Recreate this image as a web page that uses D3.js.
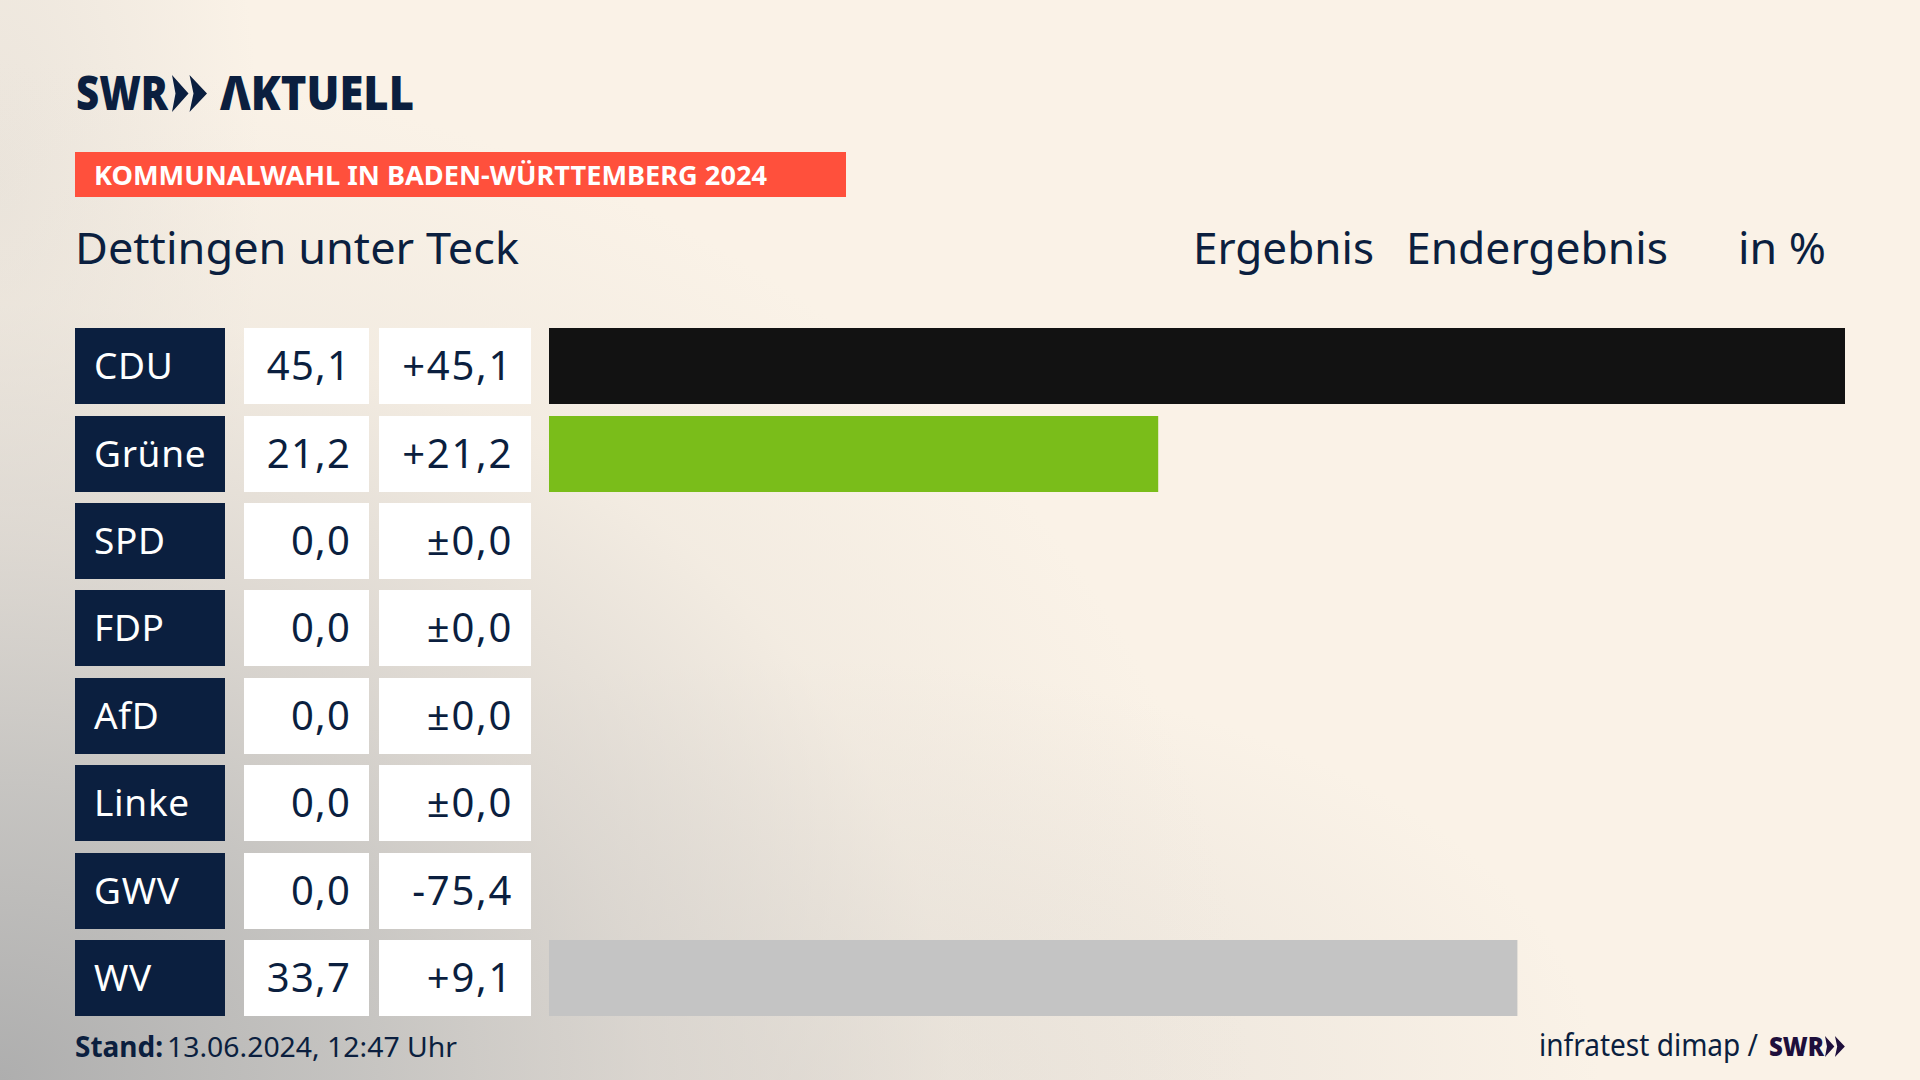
<!DOCTYPE html>
<html lang="de"><head><meta charset="utf-8">
<script src="https://cdn.jsdelivr.net/npm/d3@7/dist/d3.min.js"></script>
<style>
html,body{margin:0;padding:0;width:1920px;height:1080px;overflow:hidden;background:#faf2e7}
#bg{position:absolute;left:0;top:0;width:1920px;height:1080px;
background:
 radial-gradient(ellipse 1250px 1020px at 0px 1080px, rgba(174,174,174,1) 0%, rgba(192,191,189,.9) 28%, rgba(212,208,203,.72) 52%, rgba(232,226,217,.4) 76%, rgba(250,242,231,0) 100%),
 radial-gradient(ellipse 800px 420px at 800px 1080px, rgba(215,210,204,.6) 0%, rgba(250,242,231,0) 100%),
 radial-gradient(ellipse 260px 620px at 0px 180px, rgba(222,217,210,.55) 0%, rgba(250,242,231,0) 100%),
 #faf2e7;}
svg{position:absolute;left:0;top:0}
text{font-family:"Noto Sans",sans-serif;fill:#0b1f3f}
</style></head><body><div id="bg"></div><svg id="c" width="1920" height="1080"></svg>
<script>
const parties = ["CDU","Grüne","SPD","FDP","AfD","Linke","GWV","WV"];
const results = [45.1,21.2,0,0,0,0,0,33.7];
const changes = [45.1,21.2,0,0,0,0,-75.4,9.1];
const barColors = ["#121212","#7abd1a","#e3000f","#ffe000","#009ee0","#e3007c","#c4c4c4","#c4c4c4"];
const title = "Dettingen unter Teck";
const banner = "KOMMUNALWAHL IN BADEN-WÜRTTEMBERG 2024";
const headers = ["Ergebnis","Endergebnis","in %"];
const stand = ["Stand:","13.06.2024, 12:47 Uhr"];
const source = "infratest dimap /";

const NAVY="#0b1f3f";
const svg=d3.select("#c");
const de=d3.formatLocale({decimal:",",thousands:".",grouping:[3],currency:["","€"],minus:"-"});
const fVal=de.format(".1f"), fDiff=de.format("+.1f");
const diffLabel=v=>v===0?"±"+fVal(0):fDiff(v);

const x=d3.scaleLinear().domain([0,d3.max(results)]).range([549,1845]);
const y=d3.scaleBand().domain(parties).range([328,1016]).paddingInner(0.1307);
const row=svg.selectAll("g.row").data(parties.map((p,i)=>({p,r:results[i],c:changes[i],col:barColors[i]}))).join("g").attr("class","row")
  .attr("transform",d=>`translate(0,${Math.round(y(d.p)+0.2)})`);
const h=76;
row.append("rect").attr("x",75).attr("width",150).attr("height",h).attr("fill",NAVY);
row.append("rect").attr("x",244).attr("width",125).attr("height",h).attr("fill","#fff");
row.append("rect").attr("x",379).attr("width",152).attr("height",h).attr("fill","#fff");
row.append("rect").attr("x",x(0)).attr("width",d=>x(d.r)-x(0)).attr("height",h).attr("fill",d=>d.col);
const base=h/2+13;
row.append("text").attr("x",94).attr("y",base).attr("font-size",37).style("letter-spacing","0.7px").style("fill","#fff").text(d=>d.p);
row.append("text").attr("x",351).attr("y",base+1).attr("font-size",40).style("letter-spacing","1.2px").attr("text-anchor","end").text(d=>fVal(d.r));
row.append("text").attr("x",513).attr("y",base+1).attr("font-size",40).style("letter-spacing","1.7px").attr("text-anchor","end").text(d=>diffLabel(d.c));

function T(s,xp,yp,size,w,opt={}){
  const t=svg.append("text").attr("x",xp).attr("y",yp).attr("font-size",size).text(s);
  if(w) t.attr("textLength",w).attr("lengthAdjust","spacingAndGlyphs");
  if(opt.bold) t.attr("font-weight",opt.bold===true?700:opt.bold);
  if(opt.fill) t.style("fill",opt.fill);
  return t;
}
function chevrons(x0,y0,hh,fill){
  const u=hh/37;
  const g=svg.append("g").attr("transform",`translate(${x0},${y0}) scale(${u})`).attr("fill",fill);
  g.append("path").attr("d","M0 0 L16.5 18.5 L0 37 L3.5 18.5 Z");
  g.append("path").attr("d","M17.5 0 L35 18.5 L17.5 37 L21.5 18.5 Z");
}
// logo
T("SWR",76,110,48,92,{bold:900});
chevrons(172,75,37,NAVY);
T("ΛKTUELL",220,110,48,194,{bold:900});
// banner
svg.append("rect").attr("x",75).attr("y",152).attr("width",771).attr("height",45).attr("fill","#ff503c");
T(banner,94,184.5,27,673,{bold:true,fill:"#fff"});
// header
T(title,75,264,44,444);
T(headers[0],1193,264,44,181);
T(headers[1],1406,264,44,262);
T(headers[2],1738,264,44,88);
// footer
T(stand[0],75,1057,28,88,{bold:true});
T(stand[1],167,1057,28,290);
T(source,1539,1056,30,219);
T("SWR",1769,1056,27,55,{bold:900,fill:"#1e0f3c"});
chevrons(1825,1036,21,"#1e0f3c");
</script></body></html>
